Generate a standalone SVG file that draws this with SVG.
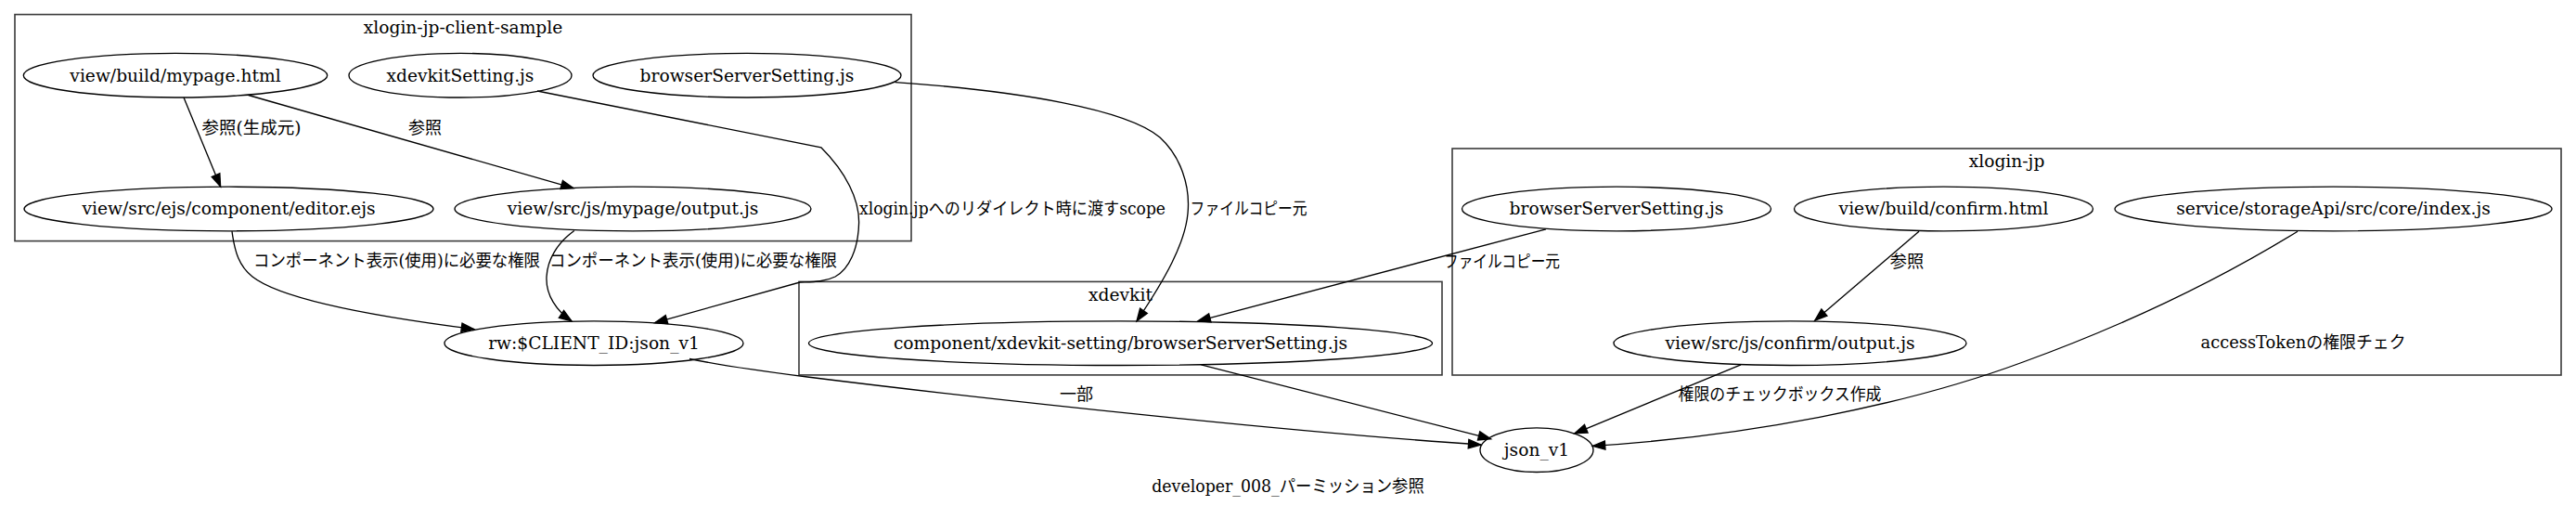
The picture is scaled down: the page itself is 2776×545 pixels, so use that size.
<svg xmlns="http://www.w3.org/2000/svg" width="2776" height="545" viewBox="0 0 2776 545">
<style>
.bg{fill:#fff}
.cl{fill:none;stroke:#3a3a3a;stroke-width:1.6}
.nd{fill:none;stroke:#000;stroke-width:1.33}
.ed{fill:none;stroke:#000;stroke-width:1.33}
.t{font-family:"DejaVu Serif","Noto Sans CJK JP",serif;font-size:18.67px;fill:#000;text-anchor:middle}
.lb{font-family:"DejaVu Serif","Noto Sans CJK JP",serif;font-size:18.67px;fill:#000;text-anchor:middle}
</style>
<defs>
<marker id="arr" markerUnits="userSpaceOnUse" markerWidth="18" markerHeight="14" viewBox="-15 -7 18 14" refX="0" refY="0" orient="auto" overflow="visible">
<path d="M-13.3,-4.67 L0,0 L-13.3,4.67 Z" fill="#000" stroke="#000" stroke-width="1.33"/>
</marker>
</defs>
<rect class="bg" x="0" y="0" width="2776" height="545"/>

<g id="clusters">
<g id="cluster_client">
<rect class="cl" x="16" y="15.6" width="966" height="244"/>
<text class="t" x="499" y="36">xlogin-jp-client-sample</text>
</g>
<g id="cluster_xdevkit">
<rect class="cl" x="861" y="303.4" width="693" height="100.5"/>
<text class="t" x="1207.5" y="323.5">xdevkit</text>
</g>
<g id="cluster_xloginjp">
<rect class="cl" x="1565" y="160" width="1195" height="244"/>
<text class="t" x="2162.5" y="180">xlogin-jp</text>
</g>
</g>

<g id="connectors">
<path class="ed" marker-end="url(#arr)" d="M198,105 L237.6,200.9"/>
<path class="ed" marker-end="url(#arr)" d="M267.7,102.5 L618,202.6"/>
<path class="ed" marker-end="url(#arr)" d="M579,98 L884.8,158.8 C912,186 926,215 925.6,240 C925,268 915,290 900,298 C888,304 875,303.5 862,304 L705.7,347.6"/>
<path class="ed" marker-end="url(#arr)" d="M964.6,88.6 C1100,98 1215,118 1250,148 C1272,168 1283,200 1280,230 C1277,262 1256,300 1225,345.8"/>
<path class="ed" marker-end="url(#arr)" d="M250,249.2 C253,272 258,287 272,298 C305,324 420,343 510.6,354.5"/>
<path class="ed" marker-end="url(#arr)" d="M618.8,248.5 C600,262 590,280 589,298 C588,318 600,335 616,345.8"/>
<path class="ed" marker-end="url(#arr)" d="M743,386.5 C790,396 830,401 870,406 C1080,432 1400,466 1595.8,479"/>
<path class="ed" marker-end="url(#arr)" d="M1294.4,392.8 L1606.5,472.7"/>
<path class="ed" marker-end="url(#arr)" d="M1666,246.8 L1291,345.8"/>
<path class="ed" marker-end="url(#arr)" d="M2068,249.2 L1955.8,345.2"/>
<path class="ed" marker-end="url(#arr)" d="M1876,392.8 L1697,466.8"/>
<path class="ed" marker-end="url(#arr)" d="M2476,249.2 C2390,302 2290,350 2180,390 C2050,438 1880,470 1716.4,480.4"/>
<text class="lb" x="271" y="144" textLength="107" lengthAdjust="spacingAndGlyphs">参照(生成元)</text>
<text class="lb" x="458" y="144" textLength="36" lengthAdjust="spacingAndGlyphs">参照</text>
<text class="lb" x="427.5" y="287" textLength="309" lengthAdjust="spacingAndGlyphs">コンポーネント表示(使用)に必要な権限</text>
<text class="lb" x="747" y="287" textLength="310" lengthAdjust="spacingAndGlyphs">コンポーネント表示(使用)に必要な権限</text>
<text class="lb" x="1091" y="230.5" textLength="330" lengthAdjust="spacingAndGlyphs">xlogin.jpへのリダイレクト時に渡すscope</text>
<text class="lb" x="1345.6" y="230.5" textLength="126" lengthAdjust="spacingAndGlyphs">ファイルコピー元</text>
<text class="lb" x="1618.5" y="287.5" textLength="125" lengthAdjust="spacingAndGlyphs">ファイルコピー元</text>
<text class="lb" x="2055" y="287.5" textLength="36.5" lengthAdjust="spacingAndGlyphs">参照</text>
<text class="lb" x="1918" y="431" textLength="219" lengthAdjust="spacingAndGlyphs">権限のチェックボックス作成</text>
<text class="lb" x="1160" y="431" textLength="36" lengthAdjust="spacingAndGlyphs">一部</text>
<text class="lb" x="2482" y="374.5" textLength="221" lengthAdjust="spacingAndGlyphs">accessTokenの権限チェク</text>
</g>

<g id="n_mypage_html"><ellipse class="nd" cx="189" cy="81.2" rx="163.7" ry="23.8"/><text class="t" x="189" y="87.5">view/build/mypage.html</text></g>
<g id="n_xdevkitSetting"><ellipse class="nd" cx="496" cy="81.2" rx="120" ry="23.8"/><text class="t" x="496" y="87.5">xdevkitSetting.js</text></g>
<g id="n_bss_client"><ellipse class="nd" cx="805" cy="81.2" rx="166" ry="23.8"/><text class="t" x="805" y="87.5">browserServerSetting.js</text></g>
<g id="n_editor_ejs"><ellipse class="nd" cx="246.5" cy="225" rx="220.5" ry="23.8"/><text class="t" x="246.5" y="231.3">view/src/ejs/component/editor.ejs</text></g>
<g id="n_mypage_output"><ellipse class="nd" cx="682" cy="225" rx="192" ry="23.8"/><text class="t" x="682" y="231.3">view/src/js/mypage/output.js</text></g>
<g id="n_rw_client"><ellipse class="nd" cx="640" cy="369.7" rx="161" ry="23.8"/><text class="t" x="640" y="376">rw:$CLIENT_ID:json_v1</text></g>
<g id="n_xdevkit_bss"><ellipse class="nd" cx="1207.5" cy="369.7" rx="336" ry="23.8"/><text class="t" x="1207.5" y="376">component/xdevkit-setting/browserServerSetting.js</text></g>
<g id="n_bss_xloginjp"><ellipse class="nd" cx="1742" cy="225" rx="166.5" ry="23.8"/><text class="t" x="1742" y="231.3">browserServerSetting.js</text></g>
<g id="n_confirm_html"><ellipse class="nd" cx="2094.5" cy="225" rx="161" ry="23.8"/><text class="t" x="2094.5" y="231.3">view/build/confirm.html</text></g>
<g id="n_storage_index"><ellipse class="nd" cx="2514.5" cy="225" rx="235.5" ry="23.8"/><text class="t" x="2514.5" y="231.3">service/storageApi/src/core/index.js</text></g>
<g id="n_confirm_output"><ellipse class="nd" cx="1929" cy="369.7" rx="190" ry="23.8"/><text class="t" x="1929" y="376">view/src/js/confirm/output.js</text></g>
<g id="n_json_v1"><ellipse class="nd" cx="1656" cy="484.7" rx="61" ry="23.8"/><text class="t" x="1656" y="491">json_v1</text></g>

<text class="lb" x="1388" y="529.5" textLength="293.5" lengthAdjust="spacingAndGlyphs">developer_008_パーミッション参照</text>
</svg>
